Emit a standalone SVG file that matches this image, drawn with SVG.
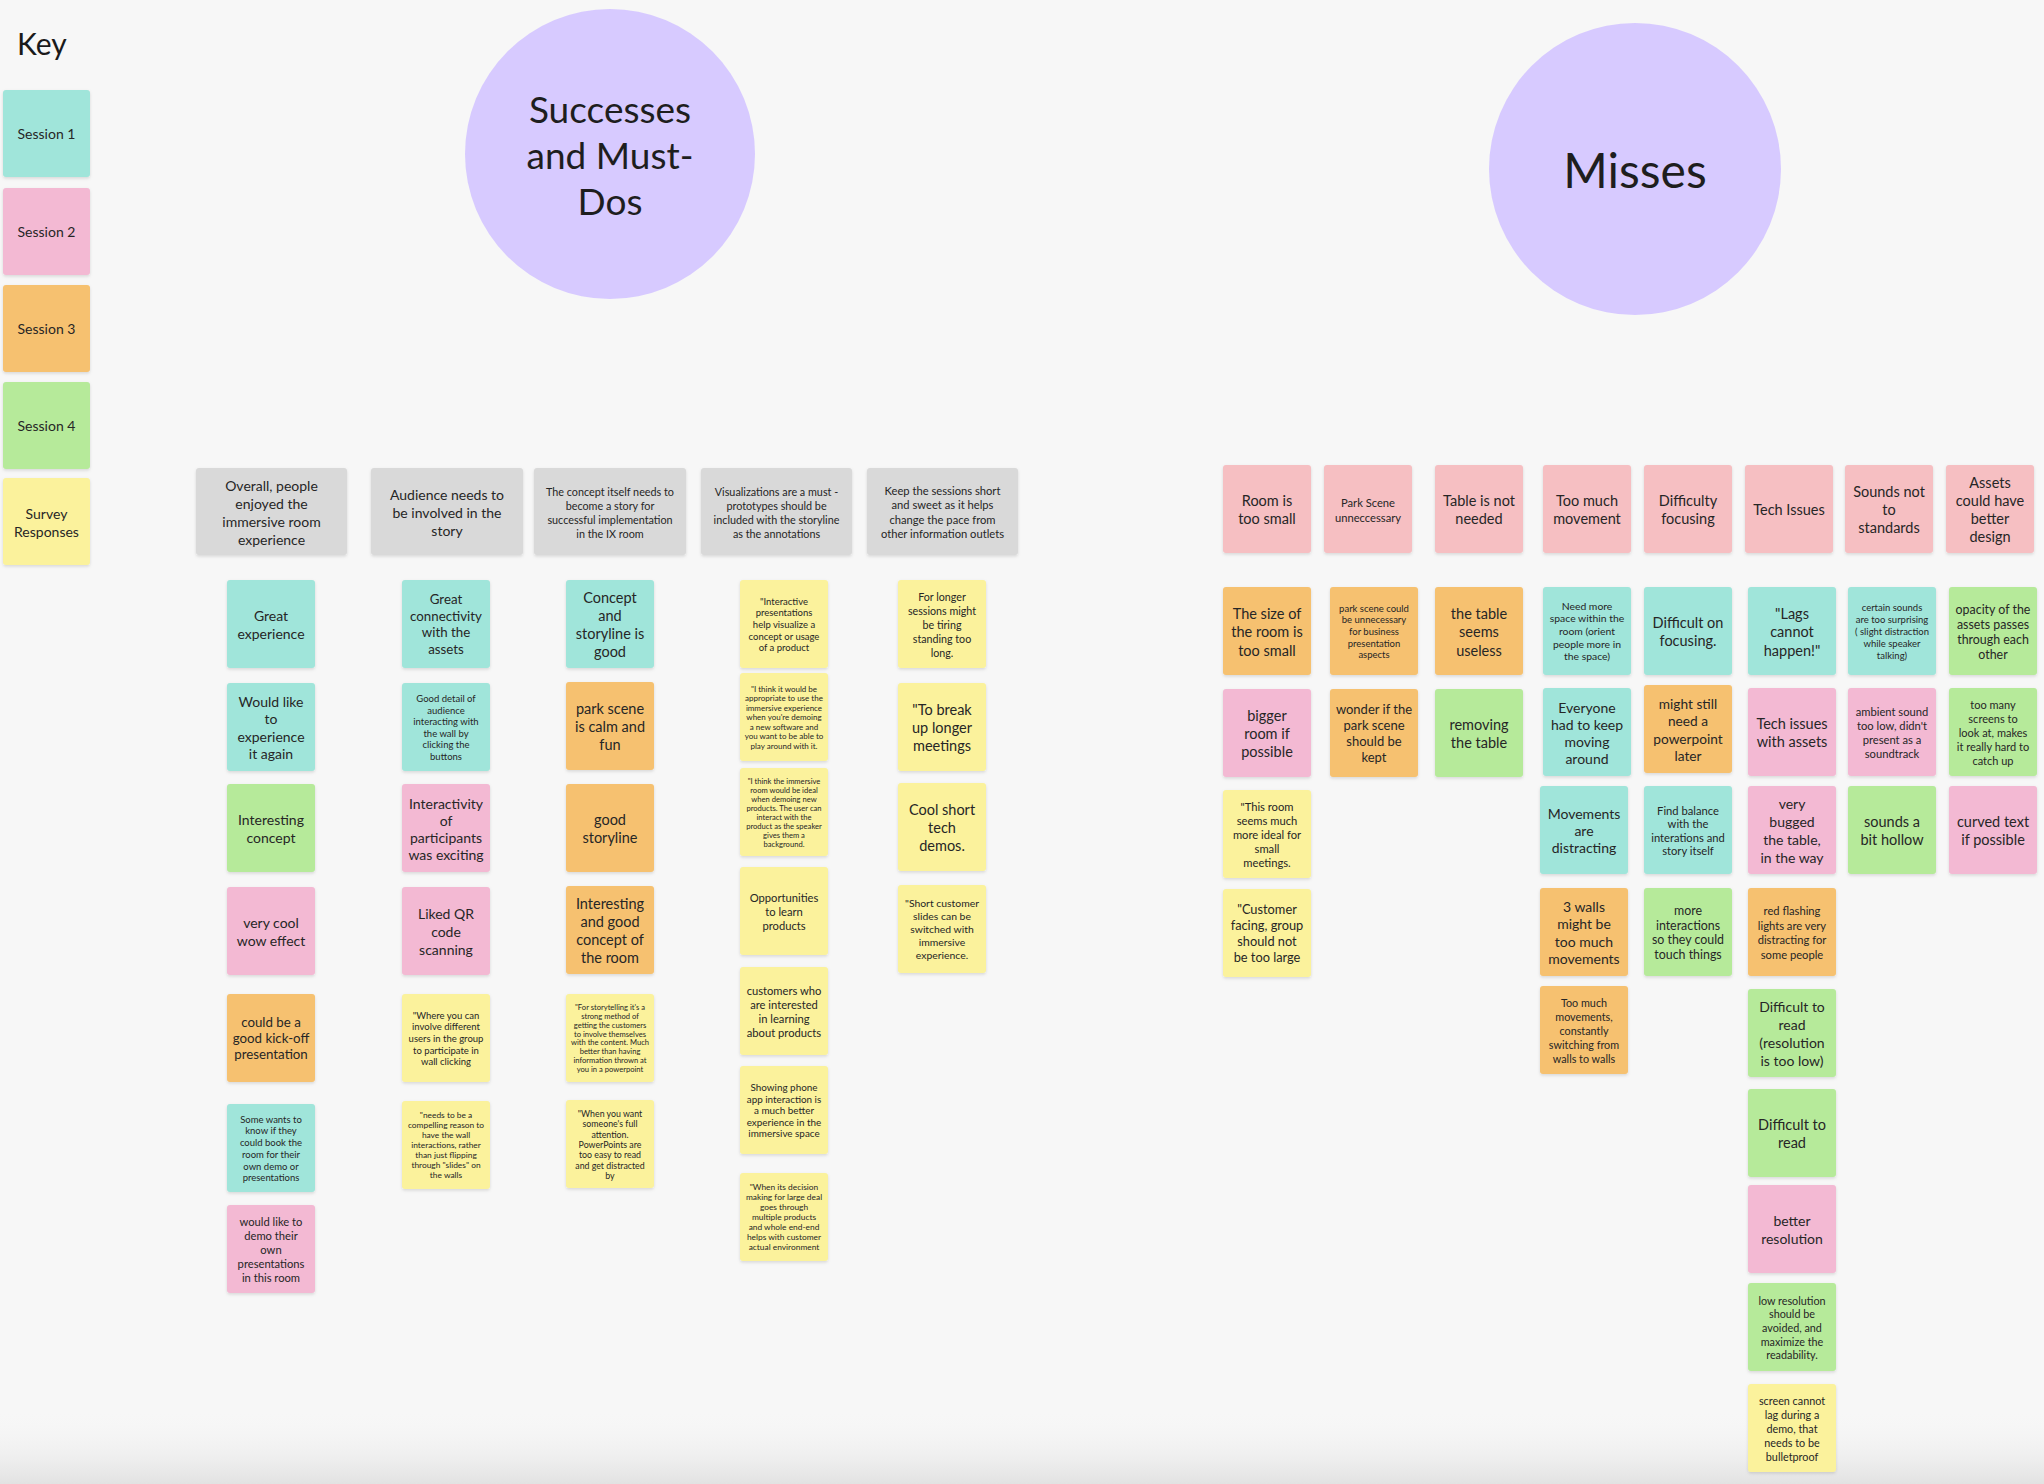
<svg xmlns="http://www.w3.org/2000/svg" width="2044" height="1484" viewBox="0 0 2044 1484">
<defs>
<filter id="sh" x="-10%" y="-10%" width="120%" height="125%"><feDropShadow dx="0" dy="1.5" stdDeviation="1.4" flood-color="#000" flood-opacity="0.13"/></filter>
<linearGradient id="bot" x1="0" y1="0" x2="0" y2="1"><stop offset="0" stop-color="#f7f7f7" stop-opacity="0"/><stop offset="1" stop-color="#e2e2e2"/></linearGradient>
</defs>
<style>
.n{filter:url(#sh)}
.s1{fill:#a0e5da}.s2{fill:#f3b9d3}.s3{fill:#f6c16f}.s4{fill:#b6ea9a}.sv{fill:#fbf29c}.hd{fill:#d9d9d9}.hm{fill:#f6bfc2}
.cir{fill:#d7caff}
text{font-family:Lato,"Liberation Sans",sans-serif;fill:#262626}
.t{text-anchor:middle;dominant-baseline:central}
.z145{font-size:14.5px}.z14{font-size:14px}.z13{font-size:13.3px}.z12{font-size:12.4px}.z11{font-size:11.2px}.z10{font-size:10.4px}.z9{font-size:9.5px}.z8{font-size:8.4px}.z7{font-size:7.6px}
.big{font-size:37px;fill:#1e1e1e}.huge{font-size:48px;fill:#1e1e1e}
</style>
<rect width="2044" height="1484" fill="#f7f7f7"/>
<rect y="1410" width="2044" height="74" fill="url(#bot)"/>

<g id="key">
<text x="17" y="55" style="font-size:30px;fill:#1a1a1a">Key</text>
<g id="key-s1"><rect class="n s1" x="3" y="90" width="87" height="87" rx="3"/><text class="t z14" x="46.5" y="133.5">Session 1</text></g>
<g id="key-s2"><rect class="n s2" x="3" y="188" width="87" height="87" rx="3"/><text class="t z14" x="46.5" y="231.5">Session 2</text></g>
<g id="key-s3"><rect class="n s3" x="3" y="285" width="87" height="87" rx="3"/><text class="t z14" x="46.5" y="328.5">Session 3</text></g>
<g id="key-s4"><rect class="n s4" x="3" y="382" width="87" height="87" rx="3"/><text class="t z14" x="46.5" y="425.5">Session 4</text></g>
<g id="key-sv"><rect class="n sv" x="3" y="478" width="87" height="87" rx="3"/><text class="t z14" y="512.5"><tspan x="46.5">Survey</tspan><tspan x="46.5" dy="18">Responses</tspan></text></g>
</g>

<g id="circle-successes"><circle class="cir" cx="610" cy="154" r="145"/><text class="t big" x="610" y="108"><tspan x="610">Successes</tspan><tspan x="610" dy="46">and Must-</tspan><tspan x="610" dy="46">Dos</tspan></text></g>
<g id="circle-misses"><circle class="cir" cx="1635" cy="169" r="146"/><text class="t huge" x="1635" y="169">Misses</text></g>

<g id="left-headers">
<g id="h1"><rect class="n hd" x="196" y="468" width="151" height="87" rx="3"/><text class="t z14" y="484.5"><tspan x="271.5">Overall, people</tspan><tspan x="271.5" dy="18">enjoyed the</tspan><tspan x="271.5" dy="18">immersive room</tspan><tspan x="271.5" dy="18">experience</tspan></text></g>
<g id="h2"><rect class="n hd" x="371" y="468" width="152" height="87" rx="3"/><text class="t z14" y="493.5"><tspan x="447">Audience needs to</tspan><tspan x="447" dy="18">be involved in the</tspan><tspan x="447" dy="18">story</tspan></text></g>
<g id="h3"><rect class="n hd" x="534" y="468" width="152" height="87" rx="3"/><text class="t z11" y="490.5" style="font-size:10.8px"><tspan x="610">The concept itself needs to</tspan><tspan x="610" dy="14">become a story for</tspan><tspan x="610" dy="14">successful implementation</tspan><tspan x="610" dy="14">in the IX room</tspan></text></g>
<g id="h4"><rect class="n hd" x="701" y="468" width="151" height="87" rx="3"/><text class="t z11" y="490.5" style="font-size:10.8px"><tspan x="776.5">Visualizations are a must -</tspan><tspan x="776.5" dy="14">prototypes should be</tspan><tspan x="776.5" dy="14">included with the storyline</tspan><tspan x="776.5" dy="14">as the annotations</tspan></text></g>
<g id="h5"><rect class="n hd" x="867" y="468" width="151" height="87" rx="3"/><text class="t z11" y="489.75"><tspan x="942.5">Keep the sessions short</tspan><tspan x="942.5" dy="14.5">and sweet as it helps</tspan><tspan x="942.5" dy="14.5">change the pace from</tspan><tspan x="942.5" dy="14.5">other information outlets</tspan></text></g>
</g>

<g id="col1">
<g id="c1-1"><rect class="n s1" x="227" y="580" width="88" height="88" rx="3"/><text class="t z14" y="615"><tspan x="271">Great</tspan><tspan x="271" dy="18">experience</tspan></text></g>
<g id="c1-2"><rect class="n s1" x="227" y="683" width="88" height="88" rx="3"/><text class="t z14" y="700.6"><tspan x="271">Would like</tspan><tspan x="271" dy="17.6">to</tspan><tspan x="271" dy="17.6">experience</tspan><tspan x="271" dy="17.6">it again</tspan></text></g>
<g id="c1-3"><rect class="n s4" x="227" y="784" width="88" height="88" rx="3"/><text class="t z14" y="819"><tspan x="271">Interesting</tspan><tspan x="271" dy="18">concept</tspan></text></g>
<g id="c1-4"><rect class="n s2" x="227" y="887" width="88" height="88" rx="3"/><text class="t z14" y="922"><tspan x="271">very cool</tspan><tspan x="271" dy="18">wow effect</tspan></text></g>
<g id="c1-5"><rect class="n s3" x="227" y="994" width="88" height="88" rx="3"/><text class="t z13" y="1021.7"><tspan x="271">could be a</tspan><tspan x="271" dy="16.3">good kick-off</tspan><tspan x="271" dy="16.3">presentation</tspan></text></g>
<g id="c1-6"><rect class="n s1" x="227" y="1104" width="88" height="88" rx="3"/><text class="t z9" y="1118.75"><tspan x="271">Some wants to</tspan><tspan x="271" dy="11.7">know if they</tspan><tspan x="271" dy="11.7">could book the</tspan><tspan x="271" dy="11.7">room for their</tspan><tspan x="271" dy="11.7">own demo or</tspan><tspan x="271" dy="11.7">presentations</tspan></text></g>
<g id="c1-7"><rect class="n s2" x="227" y="1205" width="88" height="88" rx="3"/><text class="t z11" y="1221"><tspan x="271">would like to</tspan><tspan x="271" dy="14">demo their</tspan><tspan x="271" dy="14">own</tspan><tspan x="271" dy="14">presentations</tspan><tspan x="271" dy="14">in this room</tspan></text></g>
</g>

<g id="col2">
<g id="c2-1"><rect class="n s1" x="402" y="580" width="88" height="88" rx="3"/><text class="t z13" y="599.25"><tspan x="446">Great</tspan><tspan x="446" dy="16.5">connectivity</tspan><tspan x="446" dy="16.5">with the</tspan><tspan x="446" dy="16.5">assets</tspan></text></g>
<g id="c2-2"><rect class="n s1" x="402" y="683" width="88" height="88" rx="3"/><text class="t z9" y="698"><tspan x="446">Good detail of</tspan><tspan x="446" dy="11.6">audience</tspan><tspan x="446" dy="11.6">interacting with</tspan><tspan x="446" dy="11.6">the wall by</tspan><tspan x="446" dy="11.6">clicking the</tspan><tspan x="446" dy="11.6">buttons</tspan></text></g>
<g id="c2-3"><rect class="n s2" x="402" y="784" width="88" height="88" rx="3"/><text class="t z14" y="802.5"><tspan x="446">Interactivity</tspan><tspan x="446" dy="17">of</tspan><tspan x="446" dy="17">participants</tspan><tspan x="446" dy="17">was exciting</tspan></text></g>
<g id="c2-4"><rect class="n s2" x="402" y="887" width="88" height="88" rx="3"/><text class="t z14" y="913.3"><tspan x="446">Liked QR</tspan><tspan x="446" dy="17.7">code</tspan><tspan x="446" dy="17.7">scanning</tspan></text></g>
<g id="c2-5"><rect class="n sv" x="402" y="994" width="88" height="88" rx="3"/><text class="t z9" y="1014.8"><tspan x="446">"Where you can</tspan><tspan x="446" dy="11.6">involve different</tspan><tspan x="446" dy="11.6">users in the group</tspan><tspan x="446" dy="11.6">to participate in</tspan><tspan x="446" dy="11.6">wall clicking</tspan></text></g>
<g id="c2-6"><rect class="n sv" x="402" y="1101" width="88" height="88" rx="3"/><text class="t z8" y="1114.7"><tspan x="446">"needs to be a</tspan><tspan x="446" dy="10.1">compelling reason to</tspan><tspan x="446" dy="10.1">have the wall</tspan><tspan x="446" dy="10.1">interactions, rather</tspan><tspan x="446" dy="10.1">than just flipping</tspan><tspan x="446" dy="10.1">through "slides" on</tspan><tspan x="446" dy="10.1">the walls</tspan></text></g>
</g>

<g id="col3">
<g id="c3-1"><rect class="n s1" x="566" y="580" width="88" height="88" rx="3"/><text class="t z145" y="596.55"><tspan x="610">Concept</tspan><tspan x="610" dy="18.3">and</tspan><tspan x="610" dy="18.3">storyline is</tspan><tspan x="610" dy="18.3">good</tspan></text></g>
<g id="c3-2"><rect class="n s3" x="566" y="682" width="88" height="88" rx="3"/><text class="t z145" y="707.7"><tspan x="610">park scene</tspan><tspan x="610" dy="18.3">is calm and</tspan><tspan x="610" dy="18.3">fun</tspan></text></g>
<g id="c3-3"><rect class="n s3" x="566" y="784" width="88" height="88" rx="3"/><text class="t z145" y="818.85"><tspan x="610">good</tspan><tspan x="610" dy="18.3">storyline</tspan></text></g>
<g id="c3-4"><rect class="n s3" x="566" y="886" width="88" height="88" rx="3"/><text class="t z145" y="903"><tspan x="610">Interesting</tspan><tspan x="610" dy="18">and good</tspan><tspan x="610" dy="18">concept of</tspan><tspan x="610" dy="18">the room</tspan></text></g>
<g id="c3-5"><rect class="n sv" x="566" y="994" width="88" height="88" rx="3"/><text class="t z7" y="1006.85"><tspan x="610">"For storytelling it's a</tspan><tspan x="610" dy="8.9">strong method of</tspan><tspan x="610" dy="8.9">getting the customers</tspan><tspan x="610" dy="8.9">to involve themselves</tspan><tspan x="610" dy="8.9">with the content. Much</tspan><tspan x="610" dy="8.9">better than having</tspan><tspan x="610" dy="8.9">information thrown at</tspan><tspan x="610" dy="8.9">you in a powerpoint</tspan></text></g>
<g id="c3-6"><rect class="n sv" x="566" y="1100" width="88" height="88" rx="3"/><text class="t z8" y="1112.8" style="font-size:8.8px"><tspan x="610">"When you want</tspan><tspan x="610" dy="10.4">someone's full</tspan><tspan x="610" dy="10.4">attention.</tspan><tspan x="610" dy="10.4">PowerPoints are</tspan><tspan x="610" dy="10.4">too easy to read</tspan><tspan x="610" dy="10.4">and get distracted</tspan><tspan x="610" dy="10.4">by</tspan></text></g>
</g>

<g id="col4">
<g id="c4-1"><rect class="n sv" x="740" y="580" width="88" height="88" rx="3"/><text class="t z9" y="600.8"><tspan x="784">"Interactive</tspan><tspan x="784" dy="11.6">presentations</tspan><tspan x="784" dy="11.6">help visualize a</tspan><tspan x="784" dy="11.6">concept or usage</tspan><tspan x="784" dy="11.6">of a product</tspan></text></g>
<g id="c4-2"><rect class="n sv" x="740" y="673" width="88" height="88" rx="3"/><text class="t z8" y="688.5" style="font-size:8px"><tspan x="784">"I think it would be</tspan><tspan x="784" dy="9.5">appropriate to use the</tspan><tspan x="784" dy="9.5">immersive experience</tspan><tspan x="784" dy="9.5">when you're demoing</tspan><tspan x="784" dy="9.5">a new software and</tspan><tspan x="784" dy="9.5">you want to be able to</tspan><tspan x="784" dy="9.5">play around with it.</tspan></text></g>
<g id="c4-3"><rect class="n sv" x="740" y="768" width="88" height="88" rx="3"/><text class="t z7" y="780.5"><tspan x="784">"I think the immersive</tspan><tspan x="784" dy="9">room would be ideal</tspan><tspan x="784" dy="9">when demoing new</tspan><tspan x="784" dy="9">products. The user can</tspan><tspan x="784" dy="9">interact with the</tspan><tspan x="784" dy="9">product as the speaker</tspan><tspan x="784" dy="9">gives them a</tspan><tspan x="784" dy="9">background.</tspan></text></g>
<g id="c4-4"><rect class="n sv" x="740" y="867" width="88" height="88" rx="3"/><text class="t z11" y="897.4"><tspan x="784">Opportunities</tspan><tspan x="784" dy="13.6">to learn</tspan><tspan x="784" dy="13.6">products</tspan></text></g>
<g id="c4-5"><rect class="n sv" x="740" y="967" width="88" height="88" rx="3"/><text class="t z11" y="990.45"><tspan x="784">customers who</tspan><tspan x="784" dy="13.7">are interested</tspan><tspan x="784" dy="13.7">in learning</tspan><tspan x="784" dy="13.7">about products</tspan></text></g>
<g id="c4-6"><rect class="n sv" x="740" y="1066" width="88" height="88" rx="3"/><text class="t z10" y="1087" style="font-size:9.9px"><tspan x="784">Showing phone</tspan><tspan x="784" dy="11.5">app interaction is</tspan><tspan x="784" dy="11.5">a much better</tspan><tspan x="784" dy="11.5">experience in the</tspan><tspan x="784" dy="11.5">immersive space</tspan></text></g>
<g id="c4-7"><rect class="n sv" x="740" y="1173" width="88" height="88" rx="3"/><text class="t z8" y="1187"><tspan x="784">"When its decision</tspan><tspan x="784" dy="10">making for large deal</tspan><tspan x="784" dy="10">goes through</tspan><tspan x="784" dy="10">multiple products</tspan><tspan x="784" dy="10">and whole end-end</tspan><tspan x="784" dy="10">helps with customer</tspan><tspan x="784" dy="10">actual environment</tspan></text></g>
</g>

<g id="col5">
<g id="c5-1"><rect class="n sv" x="898" y="580" width="88" height="88" rx="3"/><text class="t z10" y="596" style="font-size:10.7px"><tspan x="942">For longer</tspan><tspan x="942" dy="14">sessions might</tspan><tspan x="942" dy="14">be tiring</tspan><tspan x="942" dy="14">standing too</tspan><tspan x="942" dy="14">long.</tspan></text></g>
<g id="c5-2"><rect class="n sv" x="898" y="683" width="88" height="88" rx="3"/><text class="t z145" y="709.2"><tspan x="942">"To break</tspan><tspan x="942" dy="17.8">up longer</tspan><tspan x="942" dy="17.8">meetings</tspan></text></g>
<g id="c5-3"><rect class="n sv" x="898" y="783" width="88" height="88" rx="3"/><text class="t z145" y="808.7"><tspan x="942">Cool short</tspan><tspan x="942" dy="18.3">tech</tspan><tspan x="942" dy="18.3">demos.</tspan></text></g>
<g id="c5-4"><rect class="n sv" x="898" y="885" width="88" height="88" rx="3"/><text class="t z10" y="903"><tspan x="942">"Short customer</tspan><tspan x="942" dy="13">slides can be</tspan><tspan x="942" dy="13">switched with</tspan><tspan x="942" dy="13">immersive</tspan><tspan x="942" dy="13">experience.</tspan></text></g>
</g>

<g id="right-headers">
<g id="rh1"><rect class="n hm" x="1223" y="465" width="88" height="88" rx="3"/><text class="t z145" y="500"><tspan x="1267">Room is</tspan><tspan x="1267" dy="18">too small</tspan></text></g>
<g id="rh2"><rect class="n hm" x="1324" y="465" width="88" height="88" rx="3"/><text class="t z11" y="501.5"><tspan x="1368">Park Scene</tspan><tspan x="1368" dy="15">unneccessary</tspan></text></g>
<g id="rh3"><rect class="n hm" x="1435" y="465" width="88" height="88" rx="3"/><text class="t z145" y="500"><tspan x="1479">Table is not</tspan><tspan x="1479" dy="18">needed</tspan></text></g>
<g id="rh4"><rect class="n hm" x="1543" y="465" width="88" height="88" rx="3"/><text class="t z145" y="500"><tspan x="1587">Too much</tspan><tspan x="1587" dy="18">movement</tspan></text></g>
<g id="rh5"><rect class="n hm" x="1644" y="465" width="88" height="88" rx="3"/><text class="t z145" y="500"><tspan x="1688">Difficulty</tspan><tspan x="1688" dy="18">focusing</tspan></text></g>
<g id="rh6"><rect class="n hm" x="1745" y="465" width="88" height="88" rx="3"/><text class="t z145" x="1789" y="509">Tech Issues</text></g>
<g id="rh7"><rect class="n hm" x="1845" y="465" width="88" height="88" rx="3"/><text class="t z145" y="491"><tspan x="1889">Sounds not</tspan><tspan x="1889" dy="18">to</tspan><tspan x="1889" dy="18">standards</tspan></text></g>
<g id="rh8"><rect class="n hm" x="1946" y="465" width="88" height="88" rx="3"/><text class="t z145" y="482"><tspan x="1990">Assets</tspan><tspan x="1990" dy="18">could have</tspan><tspan x="1990" dy="18">better</tspan><tspan x="1990" dy="18">design</tspan></text></g>
</g>

<g id="r1">
<g id="r1-1"><rect class="n s3" x="1223" y="587" width="88" height="88" rx="3"/><text class="t z145" y="612.5"><tspan x="1267">The size of</tspan><tspan x="1267" dy="18.5">the room is</tspan><tspan x="1267" dy="18.5">too small</tspan></text></g>
<g id="r1-2"><rect class="n s2" x="1223" y="689" width="88" height="88" rx="3"/><text class="t z145" y="714.7"><tspan x="1267">bigger</tspan><tspan x="1267" dy="18.3">room if</tspan><tspan x="1267" dy="18.3">possible</tspan></text></g>
<g id="r1-3"><rect class="n sv" x="1223" y="790" width="88" height="88" rx="3"/><text class="t z11" y="806"><tspan x="1267">"This room</tspan><tspan x="1267" dy="14">seems much</tspan><tspan x="1267" dy="14">more ideal for</tspan><tspan x="1267" dy="14">small</tspan><tspan x="1267" dy="14">meetings.</tspan></text></g>
<g id="r1-4"><rect class="n sv" x="1223" y="889" width="88" height="88" rx="3"/><text class="t z13" y="909" style="font-size:12.8px"><tspan x="1267">"Customer</tspan><tspan x="1267" dy="16">facing, group</tspan><tspan x="1267" dy="16">should not</tspan><tspan x="1267" dy="16">be too large</tspan></text></g>
</g>

<g id="r2">
<g id="r2-1"><rect class="n s3" x="1330" y="587" width="88" height="88" rx="3"/><text class="t z9" y="607.6"><tspan x="1374">park scene could</tspan><tspan x="1374" dy="11.7">be unnecessary</tspan><tspan x="1374" dy="11.7">for business</tspan><tspan x="1374" dy="11.7">presentation</tspan><tspan x="1374" dy="11.7">aspects</tspan></text></g>
<g id="r2-2"><rect class="n s3" x="1330" y="689" width="88" height="88" rx="3"/><text class="t z13" y="708.55" style="font-size:13px"><tspan x="1374">wonder if the</tspan><tspan x="1374" dy="16.3">park scene</tspan><tspan x="1374" dy="16.3">should be</tspan><tspan x="1374" dy="16.3">kept</tspan></text></g>
</g>

<g id="r3">
<g id="r3-1"><rect class="n s3" x="1435" y="587" width="88" height="88" rx="3"/><text class="t z145" y="612.5"><tspan x="1479">the table</tspan><tspan x="1479" dy="18.5">seems</tspan><tspan x="1479" dy="18.5">useless</tspan></text></g>
<g id="r3-2"><rect class="n s4" x="1435" y="689" width="88" height="88" rx="3"/><text class="t z145" y="724"><tspan x="1479">removing</tspan><tspan x="1479" dy="18">the table</tspan></text></g>
</g>

<g id="r4">
<g id="r4-1"><rect class="n s1" x="1543" y="587" width="88" height="88" rx="3"/><text class="t z10" y="605.6"><tspan x="1587">Need more</tspan><tspan x="1587" dy="12.7">space within the</tspan><tspan x="1587" dy="12.7">room (orient</tspan><tspan x="1587" dy="12.7">people more in</tspan><tspan x="1587" dy="12.7">the space)</tspan></text></g>
<g id="r4-2"><rect class="n s1" x="1543" y="688" width="88" height="88" rx="3"/><text class="t z14" y="706.5"><tspan x="1587">Everyone</tspan><tspan x="1587" dy="17">had to keep</tspan><tspan x="1587" dy="17">moving</tspan><tspan x="1587" dy="17">around</tspan></text></g>
<g id="r4-3"><rect class="n s1" x="1540" y="786" width="88" height="88" rx="3"/><text class="t z14" y="813.3"><tspan x="1584">Movements</tspan><tspan x="1584" dy="16.7">are</tspan><tspan x="1584" dy="16.7">distracting</tspan></text></g>
<g id="r4-4"><rect class="n s3" x="1540" y="888" width="88" height="88" rx="3"/><text class="t z14" y="906.2"><tspan x="1584">3 walls</tspan><tspan x="1584" dy="17.2">might be</tspan><tspan x="1584" dy="17.2">too much</tspan><tspan x="1584" dy="17.2">movements</tspan></text></g>
<g id="r4-5"><rect class="n s3" x="1540" y="986" width="88" height="88" rx="3"/><text class="t z11" y="1002" style="font-size:10.8px"><tspan x="1584">Too much</tspan><tspan x="1584" dy="14">movements,</tspan><tspan x="1584" dy="14">constantly</tspan><tspan x="1584" dy="14">switching from</tspan><tspan x="1584" dy="14">walls to walls</tspan></text></g>
</g>

<g id="r5">
<g id="r5-1"><rect class="n s1" x="1644" y="587" width="88" height="88" rx="3"/><text class="t z145" y="621.85"><tspan x="1688">Difficult on</tspan><tspan x="1688" dy="18.3">focusing.</tspan></text></g>
<g id="r5-2"><rect class="n s3" x="1644" y="685" width="88" height="88" rx="3"/><text class="t z13" y="703.35" style="font-size:13.7px"><tspan x="1688">might still</tspan><tspan x="1688" dy="17.1">need a</tspan><tspan x="1688" dy="17.1">powerpoint</tspan><tspan x="1688" dy="17.1">later</tspan></text></g>
<g id="r5-3"><rect class="n s1" x="1644" y="786" width="88" height="88" rx="3"/><text class="t z11" y="809.6"><tspan x="1688">Find balance</tspan><tspan x="1688" dy="13.6">with the</tspan><tspan x="1688" dy="13.6">interations and</tspan><tspan x="1688" dy="13.6">story itself</tspan></text></g>
<g id="r5-4"><rect class="n s4" x="1644" y="888" width="88" height="88" rx="3"/><text class="t z12" y="909.65"><tspan x="1688">more</tspan><tspan x="1688" dy="14.9">interactions</tspan><tspan x="1688" dy="14.9">so they could</tspan><tspan x="1688" dy="14.9">touch things</tspan></text></g>
</g>

<g id="r6">
<g id="r6-1"><rect class="n s1" x="1748" y="587" width="88" height="88" rx="3"/><text class="t z145" y="612.5"><tspan x="1792">"Lags</tspan><tspan x="1792" dy="18.5">cannot</tspan><tspan x="1792" dy="18.5">happen!"</tspan></text></g>
<g id="r6-2"><rect class="n s2" x="1748" y="688" width="88" height="88" rx="3"/><text class="t z145" y="723"><tspan x="1792">Tech issues</tspan><tspan x="1792" dy="18">with assets</tspan></text></g>
<g id="r6-3"><rect class="n s2" x="1748" y="786" width="88" height="88" rx="3"/><text class="t z14" y="803.3"><tspan x="1792">very</tspan><tspan x="1792" dy="17.8">bugged</tspan><tspan x="1792" dy="17.8">the table,</tspan><tspan x="1792" dy="17.8">in the way</tspan></text></g>
<g id="r6-4"><rect class="n s3" x="1748" y="888" width="88" height="88" rx="3"/><text class="t z11" y="910.25"><tspan x="1792">red flashing</tspan><tspan x="1792" dy="14.5">lights are very</tspan><tspan x="1792" dy="14.5">distracting for</tspan><tspan x="1792" dy="14.5">some people</tspan></text></g>
<g id="r6-5"><rect class="n s4" x="1748" y="989" width="88" height="88" rx="3"/><text class="t z14" y="1006"><tspan x="1792">Difficult to</tspan><tspan x="1792" dy="18">read</tspan><tspan x="1792" dy="18">(resolution</tspan><tspan x="1792" dy="18">is too low)</tspan></text></g>
<g id="r6-6"><rect class="n s4" x="1748" y="1089" width="88" height="88" rx="3"/><text class="t z145" y="1124"><tspan x="1792">Difficult to</tspan><tspan x="1792" dy="18">read</tspan></text></g>
<g id="r6-7"><rect class="n s2" x="1748" y="1185" width="88" height="88" rx="3"/><text class="t z14" y="1220"><tspan x="1792">better</tspan><tspan x="1792" dy="18">resolution</tspan></text></g>
<g id="r6-8"><rect class="n s4" x="1748" y="1283" width="88" height="88" rx="3"/><text class="t z10" y="1299.6" style="font-size:10.8px"><tspan x="1792">low resolution</tspan><tspan x="1792" dy="13.7">should be</tspan><tspan x="1792" dy="13.7">avoided, and</tspan><tspan x="1792" dy="13.7">maximize the</tspan><tspan x="1792" dy="13.7">readability.</tspan></text></g>
<g id="r6-9"><rect class="n sv" x="1748" y="1384" width="88" height="88" rx="3"/><text class="t z10" y="1400" style="font-size:10.8px"><tspan x="1792">screen cannot</tspan><tspan x="1792" dy="14">lag during a</tspan><tspan x="1792" dy="14">demo, that</tspan><tspan x="1792" dy="14">needs to be</tspan><tspan x="1792" dy="14">bulletproof</tspan></text></g>
</g>

<g id="r7">
<g id="r7-1"><rect class="n s1" x="1848" y="587" width="88" height="88" rx="3"/><text class="t z9" y="607.4"><tspan x="1892">certain sounds</tspan><tspan x="1892" dy="11.8">are too surprising</tspan><tspan x="1892" dy="11.8">( slight distraction</tspan><tspan x="1892" dy="11.8">while speaker</tspan><tspan x="1892" dy="11.8">talking)</tspan></text></g>
<g id="r7-2"><rect class="n s2" x="1848" y="688" width="88" height="88" rx="3"/><text class="t z11" y="711.15"><tspan x="1892">ambient sound</tspan><tspan x="1892" dy="13.9">too low, didn't</tspan><tspan x="1892" dy="13.9">present as a</tspan><tspan x="1892" dy="13.9">soundtrack</tspan></text></g>
<g id="r7-3"><rect class="n s4" x="1848" y="786" width="88" height="88" rx="3"/><text class="t z145" y="820.85"><tspan x="1892">sounds a</tspan><tspan x="1892" dy="18.3">bit hollow</tspan></text></g>
</g>

<g id="r8">
<g id="r8-1"><rect class="n s4" x="1949" y="587" width="88" height="88" rx="3"/><text class="t z12" y="608.5"><tspan x="1993">opacity of the</tspan><tspan x="1993" dy="15">assets passes</tspan><tspan x="1993" dy="15">through each</tspan><tspan x="1993" dy="15">other</tspan></text></g>
<g id="r8-2"><rect class="n s4" x="1949" y="688" width="88" height="88" rx="3"/><text class="t z11" y="704.4" style="font-size:11px"><tspan x="1993">too many</tspan><tspan x="1993" dy="13.8">screens to</tspan><tspan x="1993" dy="13.8">look at, makes</tspan><tspan x="1993" dy="13.8">it really hard to</tspan><tspan x="1993" dy="13.8">catch up</tspan></text></g>
<g id="r8-3"><rect class="n s2" x="1949" y="786" width="88" height="88" rx="3"/><text class="t z145" y="820.85"><tspan x="1993">curved text</tspan><tspan x="1993" dy="18.3">if possible</tspan></text></g>
</g>
</svg>
